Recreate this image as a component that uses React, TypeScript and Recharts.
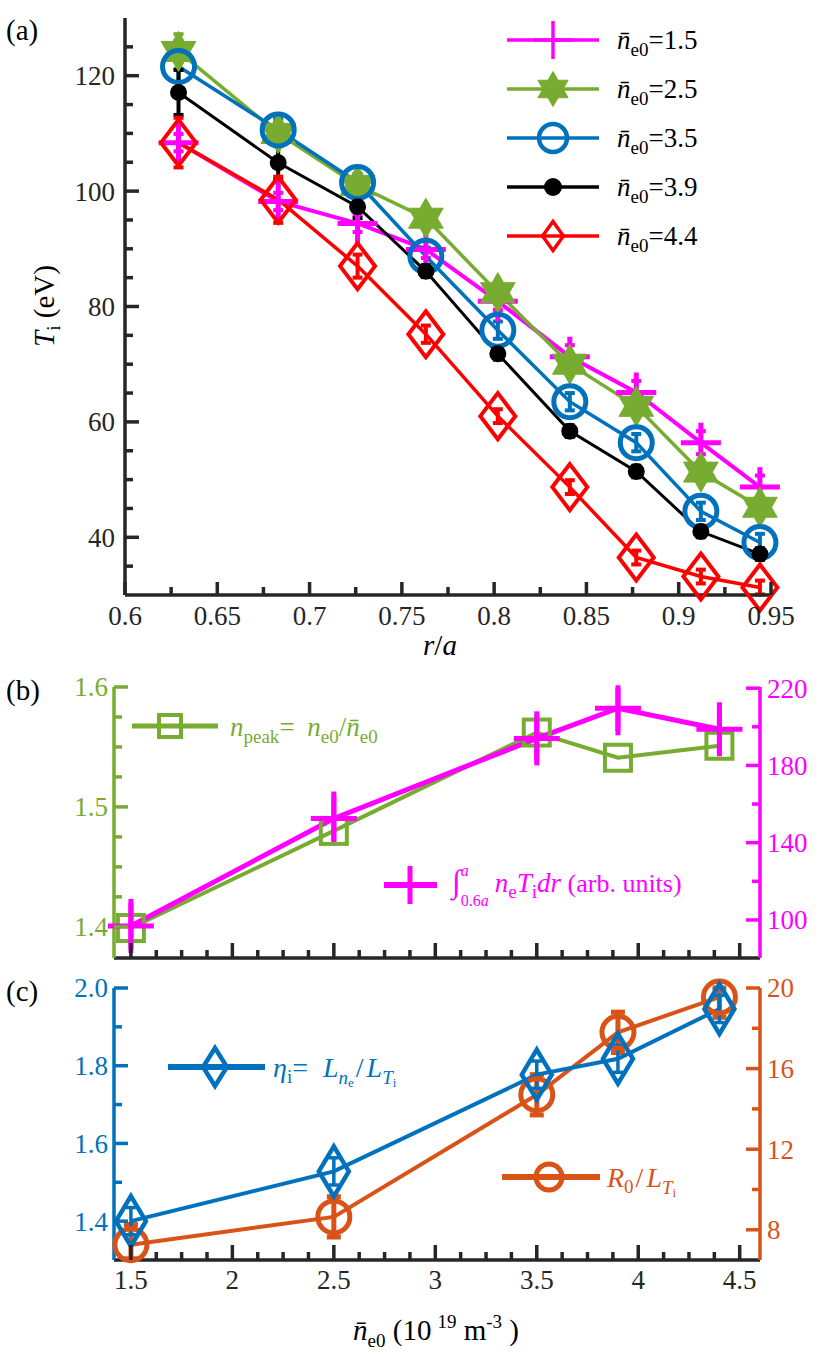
import React from 'react';
import { LineChart, ComposedChart, Line, XAxis, YAxis, ErrorBar, Legend } from 'recharts';

const FONT = "'Liberation Serif', 'Times New Roman', Times, 'DejaVu Serif', 'Noto Serif', serif";
const FS = { fontFamily: FONT };
const DARK = '#262626';
const MAGENTA = '#FF00FF';
const GREEN = '#77AC30';
const BLUE = '#0072BD';
const BLACK = '#000000';
const RED = '#FF0000';
const ORANGE = '#D95319';
const TICK_FS = 27;

// ---------------- panel (a) data ----------------
const rOverA = [0.629, 0.683, 0.726, 0.763, 0.802, 0.841, 0.877, 0.912, 0.944];
const ti15 = [108.4, 98.2, 94.4, 89.9, 80.9, 71.3, 65.1, 56.4, 48.7];
const ti25 = [124.2, 110.0, 101.0, 95.3, 82.4, 70.0, 62.7, 51.3, 45.2];
const ti35 = [121.6, 110.6, 101.5, 88.7, 75.9, 63.5, 56.4, 44.5, 39.1];
const ti39 = [117.1, 104.9, 97.3, 86.1, 71.8, 58.4, 51.4, 41.0, 37.1];
const ti44 = [108.4, 98.5, 87.0, 75.2, 61.0, 48.7, 36.5, 33.2, 31.3];
const err15 = [1.5, 1.5, 1.5, 1.5, 1.5, 2, 2, 2, 2];
const err25 = [3, 2, 1.5, 1.5, 1.5, 1.5, 1.5, 1.5, 1.5];
const err35 = [4.3, 2, 1.5, 1.5, 1.5, 1.5, 1.5, 1.5, 1.5];
const err39 = [3.9, 2.9, 2, 1, 1, 1, 1, 1, 1];
const err44 = [4.3, 4, 2, 1.5, 1.2, 1.2, 1.2, 1.2, 1.2];
const densityLabels = ['1.5', '2.5', '3.5', '3.9', '4.4'];

const xMajorA = [0.6, 0.65, 0.7, 0.75, 0.8, 0.85, 0.9, 0.95];
const xMinorA = [0.625, 0.675, 0.725, 0.775, 0.825, 0.875, 0.925];
const yMajorA = [40, 60, 80, 100, 120];
const yMinorA = [35, 45, 50, 55, 65, 70, 75, 85, 90, 95, 105, 110, 115, 125];

// ---------------- panels (b), (c) data ----------------
const nBar = [1.5, 2.5, 3.5, 3.9, 4.4];
const nPeak = [1.399, 1.48, 1.562, 1.541, 1.551];
const intNT = [96.9, 152.5, 194.0, 209.6, 198.7];
const intNTErr = [[14, 14], [14, 14], [14, 14], [14, 10.5], [14, 14]];
const etaI = [1.40, 1.528, 1.777, 1.818, 1.946];
const etaIErr = [0.035, 0.035, 0.035, 0.035, 0.035];
const r0LT = [7.26, 8.64, 14.7, 17.8, 19.55];
const r0LTErr = [[0.7, 1], [1, 1], [1, 1], [1, 1], [1, 0.45]];

const xMajorN = [1.5, 2, 2.5, 3, 3.5, 4, 4.5];
const xMinorN = [1.625, 1.75, 1.875, 2.125, 2.25, 2.375, 2.625, 2.75, 2.875, 3.125, 3.25, 3.375, 3.625, 3.75, 3.875, 4.125, 4.25, 4.375];
const yMajorB = [1.4, 1.5, 1.6];
const yMinorB = [1.425, 1.45, 1.475, 1.525, 1.55, 1.575];
const yMajorBR = [100, 140, 180, 220];
const yMinorBR = [120, 160, 200];
const yMajorC = [1.4, 1.6, 1.8, 2.0];
const yMinorC = [1.5, 1.7, 1.9];
const yMajorCR = [8, 12, 16, 20];
const yMinorCR = [10, 14, 18];

// ---------------- tables ----------------
const dataA = rOverA.map((r, i) => ({
  r,
  t15: ti15[i], e15: err15[i],
  t25: ti25[i], e25: err25[i],
  t35: ti35[i], e35: err35[i],
  t39: ti39[i], e39: err39[i],
  t44: ti44[i], e44: err44[i],
}));
const dataB = nBar.map((n, i) => ({ n, peak: nPeak[i], nt: intNT[i], ntErr: intNTErr[i] }));
const dataC = nBar.map((n, i) => ({ n, eta: etaI[i], etaErr: etaIErr[i], r0: r0LT[i], r0Err: r0LTErr[i] }));

const seriesA = [
  { key: 't15', err: 'e15', color: MAGENTA, kind: 'plus', lw: 4, s: 20, sw: 5, ls: 19, lsw: 3.5 },
  { key: 't25', err: 'e25', color: GREEN, kind: 'star', lw: 3.5, s: 20, sw: 1, ls: 17.5, lsw: 1 },
  { key: 't35', err: 'e35', color: BLUE, kind: 'circle', lw: 3.5, s: 16, sw: 5, ls: 14, lsw: 4.5 },
  { key: 't39', err: 'e39', color: BLACK, kind: 'dot', lw: 3, s: 8.5, sw: 1, ls: 9, lsw: 1 },
  { key: 't44', err: 'e44', color: RED, kind: 'diamond', lw: 3.5, s: 23, sw: 4, ls: 14.5, lsw: 3.5 },
];

// ---------------- markers ----------------
function Marker({ kind, cx, cy, color, s, sw, ratio = 0.76 }: any) {
  if (cx == null || cy == null) return null;
  switch (kind) {
    case 'plus':
      return (
        <g stroke={color} strokeWidth={sw}>
          <line x1={cx - s} y1={cy} x2={cx + s} y2={cy} />
          <line x1={cx} y1={cy - s} x2={cx} y2={cy + s} />
        </g>
      );
    case 'star': {
      const pts: string[] = [];
      for (let k = 0; k < 12; k++) {
        const a = ((-90 + 30 * k) * Math.PI) / 180;
        const rr = k % 2 === 0 ? s : s / Math.sqrt(3);
        pts.push(`${cx + rr * Math.cos(a)},${cy + rr * Math.sin(a)}`);
      }
      return <polygon points={pts.join(' ')} fill={color} stroke={color} strokeWidth={sw} />;
    }
    case 'circle':
      return <circle cx={cx} cy={cy} r={s} fill="none" stroke={color} strokeWidth={sw} />;
    case 'dot':
      return <circle cx={cx} cy={cy} r={s} fill={color} />;
    case 'diamond': {
      const w = s * ratio;
      return (
        <polygon
          points={`${cx},${cy - s} ${cx + w},${cy} ${cx},${cy + s} ${cx - w},${cy}`}
          fill="none"
          stroke={color}
          strokeWidth={sw}
        />
      );
    }
    case 'square':
      return <rect x={cx - s} y={cy - s} width={2 * s} height={2 * s} fill="none" stroke={color} strokeWidth={sw} />;
    default:
      return null;
  }
}

const dotRenderer = (kind: string, color: string, s: number, sw: number, ratio?: number) => (p: any) => (
  <Marker key={`m-${kind}-${p.index}`} kind={kind} cx={p.cx} cy={p.cy} color={color} s={s} sw={sw} ratio={ratio} />
);

// ---------------- ticks ----------------
type TickOpts = {
  side: 'left' | 'right' | 'bottom';
  majors: number[];
  color: string;
  majorLen: number;
  minorLen: number;
  labels: boolean;
  gap: number;
  fmt?: (v: number) => string;
};
const makeTick = (o: TickOpts) => (props: any) => {
  const { x, y, payload } = props;
  const v = payload.value;
  const major = o.majors.some((m) => Math.abs(m - v) < 1e-6);
  const len = major ? o.majorLen : o.minorLen;
  const label = major && o.labels ? (o.fmt ? o.fmt(v) : String(v)) : null;
  const common = { fontFamily: FONT, style: FS, fontSize: TICK_FS, fill: o.color };
  if (o.side === 'left') {
    return (
      <g>
        <line x1={x} y1={y} x2={x + len} y2={y} stroke={o.color} strokeWidth={3.5} />
        {label && (
          <text x={x - o.gap} y={y} dy="0.35em" textAnchor="end" {...common}>
            {label}
          </text>
        )}
      </g>
    );
  }
  if (o.side === 'right') {
    return (
      <g>
        <line x1={x} y1={y} x2={x - len} y2={y} stroke={o.color} strokeWidth={3.5} />
        {label && (
          <text x={x + o.gap} y={y} dy="0.35em" textAnchor="start" {...common}>
            {label}
          </text>
        )}
      </g>
    );
  }
  return (
    <g>
      <line x1={x} y1={y} x2={x} y2={y - len} stroke={o.color} strokeWidth={3.5} />
      {label && (
        <text x={x} y={y + o.gap} textAnchor="middle" {...common}>
          {label}
        </text>
      )}
    </g>
  );
};

const sortNum = (a: number[]) => [...a].sort((p, q) => p - q);

const SUB = 19;

// ---------------- legends ----------------
const LegendA = () => (
  <svg width={832} height={300} style={{ position: 'absolute', left: 0, top: 0, overflow: 'visible' }}>
    {seriesA.map((s, i) => {
      const y = 40 + i * 49;
      return (
        <g key={s.key}>
          <line x1={507} y1={y} x2={599} y2={y} stroke={s.color} strokeWidth={3.5} />
          <Marker kind={s.kind} cx={553} cy={y} color={s.color} s={s.ls} sw={s.lsw} ratio={0.72} />
          <text x={617} y={y + 9} fontFamily={FONT} style={FS} fontSize={27} fill="#000">
            <tspan fontStyle="italic">n&#772;</tspan>
            <tspan fontSize={SUB} dy={7}>e0</tspan>
            <tspan dy={-7}>={densityLabels[i]}</tspan>
          </text>
        </g>
      );
    })}
  </svg>
);

const LegendB = () => (
  <svg width={832} height={320} style={{ position: 'absolute', left: 0, top: 0, overflow: 'visible' }}>
    <g>
      <line x1={132} y1={66} x2={218} y2={66} stroke={GREEN} strokeWidth={5} />
      <Marker kind="square" cx={170} cy={66} color={GREEN} s={11} sw={4} />
      <text x={230} y={76} fontFamily={FONT} style={FS} fontSize={27} fill={GREEN}>
        <tspan fontStyle="italic">n</tspan>
        <tspan fontSize={SUB} dy={7}>peak</tspan>
        <tspan dy={-7}>= </tspan>
        <tspan fontStyle="italic" dx={6}>n</tspan>
        <tspan fontSize={SUB} dy={7}>e0</tspan>
        <tspan dy={-7}>/</tspan>
        <tspan fontStyle="italic">n&#772;</tspan>
        <tspan fontSize={SUB} dy={7}>e0</tspan>
      </text>
    </g>
    <g>
      <line x1={384} y1={225} x2={437} y2={225} stroke={MAGENTA} strokeWidth={6} />
      <line x1={410} y1={206} x2={410} y2={244} stroke={MAGENTA} strokeWidth={5} />
      <text x={452} y={232} fontFamily={FONT} style={FS} fontSize={27} fill={MAGENTA}>
        <tspan fontSize={32}>&#8747;</tspan>
        <tspan fontSize={16} fontStyle="italic" dy={-16}>a</tspan>
        <tspan fontSize={16} dx={-8} dy={30}>0.6</tspan>
        <tspan fontSize={16} fontStyle="italic">a</tspan>
        <tspan fontStyle="italic" dx={6} dy={-14}>n</tspan>
        <tspan fontSize={SUB} dy={6}>e</tspan>
        <tspan fontStyle="italic" dy={-6}>T</tspan>
        <tspan fontSize={SUB} dy={6}>i</tspan>
        <tspan fontStyle="italic" dy={-6}>dr</tspan>
        <tspan fontSize={26}> (arb. units)</tspan>
      </text>
    </g>
  </svg>
);

const LegendC = () => (
  <svg width={832} height={397} style={{ position: 'absolute', left: 0, top: 0, overflow: 'visible' }}>
    <g>
      <line x1={168} y1={107} x2={265} y2={107} stroke={BLUE} strokeWidth={6} />
      <Marker kind="diamond" cx={215} cy={107} color={BLUE} s={19} sw={4.5} ratio={0.63} />
      <text x={273} y={117} fontFamily={FONT} style={FS} fontSize={28} fill={BLUE}>
        <tspan fontStyle="italic">&#951;</tspan>
        <tspan fontSize={SUB} dy={6}>i</tspan>
        <tspan dy={-6}>= </tspan>
        <tspan fontStyle="italic" dx={8}>L</tspan>
        <tspan fontSize={SUB} fontStyle="italic" dy={7}>n</tspan>
        <tspan fontSize={13} dy={3}>e</tspan>
        <tspan dy={-10} dx={2}>/</tspan>
        <tspan fontStyle="italic" dx={3}>L</tspan>
        <tspan fontSize={SUB} fontStyle="italic" dy={7}>T</tspan>
        <tspan fontSize={13} dy={3}>i</tspan>
      </text>
    </g>
    <g>
      <line x1={502} y1={217} x2={600} y2={217} stroke={ORANGE} strokeWidth={6} />
      <Marker kind="circle" cx={549} cy={217} color={ORANGE} s={13} sw={5} />
      <text x={607} y={227} fontFamily={FONT} style={FS} fontSize={28} fill={ORANGE}>
        <tspan fontStyle="italic">R</tspan>
        <tspan fontSize={SUB} dy={6}>0</tspan>
        <tspan dy={-6} dx={2}>/</tspan>
        <tspan fontStyle="italic" dx={3}>L</tspan>
        <tspan fontSize={SUB} fontStyle="italic" dy={7}>T</tspan>
        <tspan fontSize={13} dy={3}>i</tspan>
      </text>
    </g>
  </svg>
);

// ---------------- axis labels ----------------
const yLabelA = () => (
  <g>
    <text x={54} y={306} transform="rotate(-90 54 306)" textAnchor="middle" fontFamily={FONT} style={FS} fontSize={29} fill="#000">
      <tspan fontStyle="italic">T</tspan>
      <tspan fontSize={SUB} dy={6}>i</tspan>
      <tspan dy={-6}> (eV)</tspan>
    </text>
    <text x={6} y={40} fontFamily={FONT} style={FS} fontSize={29} fill="#000">(a)</text>
  </g>
);
const xLabelA = () => (
  <text x={440} y={655} textAnchor="middle" fontFamily={FONT} style={FS} fontSize={29} fill="#000">
    <tspan fontStyle="italic">r</tspan>
    <tspan>/</tspan>
    <tspan fontStyle="italic">a</tspan>
  </text>
);
const yLabelB = () => (
  <text x={6} y={40} fontFamily={FONT} style={FS} fontSize={29} fill="#000">(b)</text>
);
const yLabelC = () => (
  <text x={6} y={41} fontFamily={FONT} style={FS} fontSize={29} fill="#000">(c)</text>
);
const xLabelC = () => (
  <text x={436} y={380} textAnchor="middle" fontFamily={FONT} style={FS} fontSize={29} fill="#000">
    <tspan fontStyle="italic">n&#772;</tspan>
    <tspan fontSize={SUB} dy={7}>e0</tspan>
    <tspan dy={-7}> (10</tspan>
    <tspan fontSize={SUB} dy={-12} dx={6}>19</tspan>
    <tspan dy={12}> m</tspan>
    <tspan fontSize={SUB} dy={-12}>-3</tspan>
    <tspan dy={12}>  )</tspan>
  </text>
);

export default function App() {
  return (
    <div style={{ position: 'absolute', left: 0, top: 0, width: 832, height: 1357, background: '#fff', fontFamily: FONT }}>
      {/* Panel (a) */}
      <div style={{ position: 'absolute', left: 0, top: 0 }}>
        <LineChart width={832} height={680} data={dataA} margin={{ top: 18, right: 61, bottom: 0, left: 0 }}>
          <XAxis
            dataKey="r"
            type="number"
            domain={[0.6, 0.95]}
            ticks={sortNum([...xMajorA, ...xMinorA])}
            interval={0}
            height={85}
            tickSize={0}
            tickMargin={0}
            tickLine={false}
            axisLine={{ stroke: DARK, strokeWidth: 3.5 }}
            tick={makeTick({ side: 'bottom', majors: xMajorA, color: DARK, majorLen: 13, minorLen: 8, labels: true, gap: 30 })}
            label={xLabelA}
          />
          <YAxis
            type="number"
            domain={[30, 130]}
            ticks={sortNum([...yMajorA, ...yMinorA])}
            interval={0}
            width={125}
            tickSize={0}
            tickMargin={0}
            tickLine={false}
            axisLine={{ stroke: DARK, strokeWidth: 3.5 }}
            tick={makeTick({ side: 'left', majors: yMajorA, color: DARK, majorLen: 14, minorLen: 8, labels: true, gap: 10 })}
            label={yLabelA}
          />
          <Legend layout="vertical" align="center" verticalAlign="middle" wrapperStyle={{ position: 'absolute', left: 0, top: 0, width: 832, height: 300 }} content={LegendA} />
          {seriesA.map((s) => (
            <Line
              key={s.key}
              dataKey={s.key}
              type="linear"
              stroke={s.color}
              strokeWidth={s.lw}
              isAnimationActive={false}
              activeDot={false}
              dot={dotRenderer(s.kind, s.color, s.s, s.sw, 0.76)}
            >
              <ErrorBar dataKey={s.err} direction="y" width={5} strokeWidth={4} stroke={s.color} />
            </Line>
          ))}
        </LineChart>
      </div>

      {/* Panel (b) */}
      <div style={{ position: 'absolute', left: 0, top: 660 }}>
        <ComposedChart width={832} height={320} data={dataB} margin={{ top: 27, right: 0, bottom: 0, left: 0 }}>
          <XAxis
            dataKey="n"
            type="number"
            domain={[1.4167, 4.6]}
            ticks={sortNum([...xMajorN, ...xMinorN])}
            interval={0}
            height={22}
            tickSize={0}
            tickMargin={0}
            tickLine={false}
            axisLine={{ stroke: DARK, strokeWidth: 3.5 }}
            tick={makeTick({ side: 'bottom', majors: xMajorN, color: DARK, majorLen: 15, minorLen: 8, labels: false, gap: 29 })}
          />
          <YAxis
            yAxisId="L"
            orientation="left"
            type="number"
            domain={[1.374, 1.6]}
            ticks={sortNum([...yMajorB, ...yMinorB])}
            interval={0}
            width={114}
            tickSize={0}
            tickMargin={0}
            tickLine={false}
            axisLine={{ stroke: GREEN, strokeWidth: 3.5 }}
            tick={makeTick({ side: 'left', majors: yMajorB, color: GREEN, majorLen: 14, minorLen: 8, labels: true, gap: 6, fmt: (v) => v.toFixed(1) })}
            label={yLabelB}
          />
          <YAxis
            yAxisId="R"
            orientation="right"
            type="number"
            domain={[80.3, 220.6]}
            ticks={sortNum([...yMajorBR, ...yMinorBR])}
            interval={0}
            width={72}
            tickSize={0}
            tickMargin={0}
            tickLine={false}
            axisLine={{ stroke: MAGENTA, strokeWidth: 3.5 }}
            tick={makeTick({ side: 'right', majors: yMajorBR, color: MAGENTA, majorLen: 14, minorLen: 8, labels: true, gap: 7 })}
          />
          <Legend layout="vertical" align="center" verticalAlign="middle" wrapperStyle={{ position: 'absolute', left: 0, top: 0, width: 832, height: 320 }} content={LegendB} />
          <Line
            yAxisId="L"
            dataKey="peak"
            type="linear"
            stroke={GREEN}
            strokeWidth={4}
            isAnimationActive={false}
            activeDot={false}
            dot={dotRenderer('square', GREEN, 13, 4)}
          />
          <Line
            yAxisId="R"
            dataKey="nt"
            type="linear"
            stroke={MAGENTA}
            strokeWidth={5}
            isAnimationActive={false}
            activeDot={false}
            dot={dotRenderer('plus', MAGENTA, 23, 5)}
          >
            <ErrorBar dataKey="ntErr" direction="y" width={0} strokeWidth={5} stroke={MAGENTA} />
          </Line>
        </ComposedChart>
      </div>

      {/* Panel (c) */}
      <div style={{ position: 'absolute', left: 0, top: 960 }}>
        <ComposedChart width={832} height={397} data={dataC} margin={{ top: 28, right: 0, bottom: 0, left: 0 }}>
          <XAxis
            dataKey="n"
            type="number"
            domain={[1.4167, 4.6]}
            ticks={sortNum([...xMajorN, ...xMinorN])}
            interval={0}
            height={97}
            tickSize={0}
            tickMargin={0}
            tickLine={false}
            axisLine={{ stroke: DARK, strokeWidth: 3.5 }}
            tick={makeTick({ side: 'bottom', majors: xMajorN, color: DARK, majorLen: 15, minorLen: 8, labels: true, gap: 29 })}
            label={xLabelC}
          />
          <YAxis
            yAxisId="L"
            orientation="left"
            type="number"
            domain={[1.3, 2.0]}
            ticks={sortNum([...yMajorC, ...yMinorC])}
            interval={0}
            width={114}
            tickSize={0}
            tickMargin={0}
            tickLine={false}
            axisLine={{ stroke: BLUE, strokeWidth: 3.5 }}
            tick={makeTick({ side: 'left', majors: yMajorC, color: BLUE, majorLen: 14, minorLen: 8, labels: true, gap: 6, fmt: (v) => v.toFixed(1) })}
            label={yLabelC}
          />
          <YAxis
            yAxisId="R"
            orientation="right"
            type="number"
            domain={[6.5, 20]}
            ticks={sortNum([...yMajorCR, ...yMinorCR])}
            interval={0}
            width={72}
            tickSize={0}
            tickMargin={0}
            tickLine={false}
            axisLine={{ stroke: ORANGE, strokeWidth: 3.5 }}
            tick={makeTick({ side: 'right', majors: yMajorCR, color: ORANGE, majorLen: 14, minorLen: 8, labels: true, gap: 7 })}
          />
          <Legend layout="vertical" align="center" verticalAlign="middle" wrapperStyle={{ position: 'absolute', left: 0, top: 0, width: 832, height: 397 }} content={LegendC} />
          <Line
            yAxisId="R"
            dataKey="r0"
            type="linear"
            stroke={ORANGE}
            strokeWidth={4}
            isAnimationActive={false}
            activeDot={false}
            dot={dotRenderer('circle', ORANGE, 16, 5)}
          >
            <ErrorBar dataKey="r0Err" direction="y" width={7} strokeWidth={5} stroke={ORANGE} />
          </Line>
          <Line
            yAxisId="L"
            dataKey="eta"
            type="linear"
            stroke={BLUE}
            strokeWidth={4}
            isAnimationActive={false}
            activeDot={false}
            dot={dotRenderer('diamond', BLUE, 25, 4.5, 0.6)}
          >
            <ErrorBar dataKey="etaErr" direction="y" width={5} strokeWidth={3.5} stroke={BLUE} />
          </Line>
        </ComposedChart>
      </div>
    </div>
  );
}
